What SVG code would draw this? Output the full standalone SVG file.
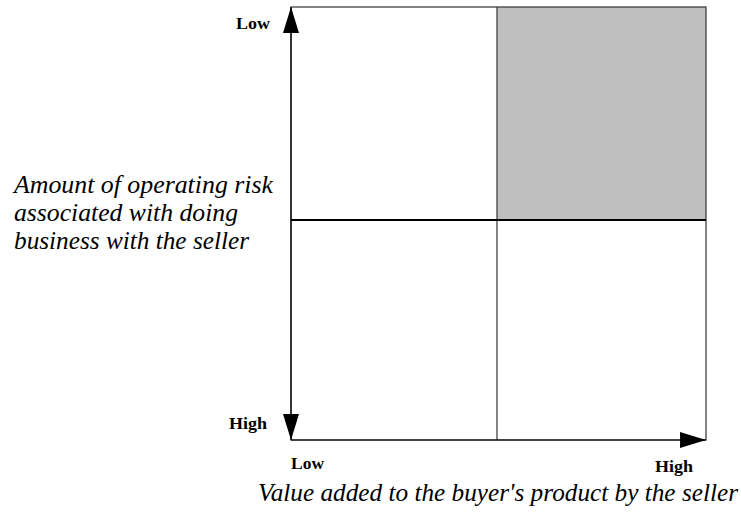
<svg xmlns="http://www.w3.org/2000/svg" width="741" height="512" viewBox="0 0 741 512">
  <style>
    text { font-family: 'Liberation Serif', 'DejaVu Serif', serif; fill: #000; }
    .tick { font-weight: bold; font-size: 17.5px; }
    .axis-title { font-style: italic; font-size: 25px; }
    .frame { fill: none; stroke: #333; stroke-width: 1.2; }
    .axis { stroke: #000; stroke-width: 1.2; fill: none; }
  </style>
  <defs>
    <marker id="arrow" viewBox="0 0 26 16" refX="26" refY="8" markerWidth="26" markerHeight="16" markerUnits="userSpaceOnUse" orient="auto">
      <path d="M0,0 L26,8 L0,16 Z" fill="#000"/>
    </marker>
  </defs>
  <rect width="741" height="512" fill="#fff"/>

  <!-- quadrant grid -->
  <g id="grid">
    <rect id="quadrant-shaded" x="497" y="7" width="209" height="213" fill="#c0c0c0"/>
    <rect class="frame" x="291" y="7" width="415" height="433"/>
    <line x1="497" y1="7" x2="497" y2="440" stroke="#333" stroke-width="1.2"/>
    <line x1="291" y1="220" x2="706" y2="220" stroke="#000" stroke-width="2"/>
  </g>

  <!-- axes -->
  <g id="connectors">
    <line class="axis" x1="291" y1="220" x2="291" y2="7" marker-end="url(#arrow)"/>
    <line class="axis" x1="291" y1="220" x2="291" y2="440" marker-end="url(#arrow)"/>
    <line class="axis" x1="291" y1="440" x2="706" y2="440" marker-end="url(#arrow)"/>
  </g>

  <!-- axis labels -->
  <g id="y-low"><text class="tick" x="236" y="29" textLength="34" lengthAdjust="spacingAndGlyphs">Low</text></g>
  <g id="y-high"><text class="tick" x="229" y="429" textLength="38" lengthAdjust="spacingAndGlyphs">High</text></g>
  <g id="x-low"><text class="tick" x="291" y="469" textLength="33" lengthAdjust="spacingAndGlyphs">Low</text></g>
  <g id="x-high"><text class="tick" x="655" y="472" textLength="38" lengthAdjust="spacingAndGlyphs">High</text></g>

  <g id="y-title">
    <text class="axis-title" x="14" y="193" textLength="259" lengthAdjust="spacingAndGlyphs">Amount of operating risk</text>
    <text class="axis-title" x="14" y="221" textLength="224" lengthAdjust="spacingAndGlyphs">associated with doing</text>
    <text class="axis-title" x="14" y="249" textLength="235" lengthAdjust="spacingAndGlyphs">business with the seller</text>
  </g>
  <g id="x-title">
    <text class="axis-title" x="258" y="501" textLength="480" lengthAdjust="spacingAndGlyphs">Value added to the buyer's product by the seller</text>
  </g>
</svg>
